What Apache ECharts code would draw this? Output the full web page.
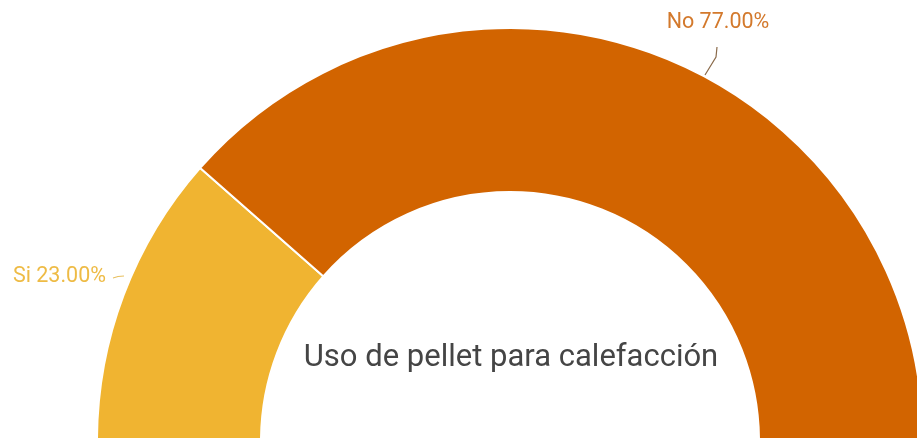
<!DOCTYPE html>
<html>
<head>
<meta charset="utf-8">
<script src="https://cdn.jsdelivr.net/npm/echarts@6/dist/echarts.min.js"></script>
<style>
  html, body { margin: 0; padding: 0; background: #ffffff; }
  #chart { width: 917px; height: 438px; }
</style>
</head>
<body>
<div id="chart"></div>
<script>
// Categories and shares for the half doughnut
const categories = ['Si', 'No'];
const values = [23, 77];
const sliceColors = ['#F0B431', '#D26400'];
const labelColors = ['#EEBB45', '#D3792C'];
const lineColors = ['#E8C060', '#8a6a4a'];
const chartTitle = 'Uso de pellet para calefacción';

const total = values.reduce((a, b) => a + b, 0);
const seriesData = categories.map((name, i) => ({
  name: name,
  value: values[i],
  itemStyle: { color: sliceColors[i] },
  label: { color: labelColors[i] },
  labelLine: { lineStyle: { color: lineColors[i] } }
}));

const chart = echarts.init(document.getElementById('chart'), null, { renderer: 'canvas' });

chart.setOption({
  backgroundColor: '#ffffff',
  animation: false,
  graphic: [{
    type: 'text',
    x: 511,
    y: 358,
    z: 100,
    style: {
      text: chartTitle,
      fontFamily: 'Roboto',
      fontSize: 31,
      fill: '#454545',
      align: 'center',
      verticalAlign: 'middle'
    }
  }],
  series: [{
    type: 'pie',
    center: [510, 441],
    radius: [249, 413],
    startAngle: 180,
    endAngle: 0,
    clockwise: true,
    avoidLabelOverlap: false,
    itemStyle: { borderColor: '#ffffff', borderWidth: 2 },
    label: {
      show: true,
      position: 'outside',
      overflow: 'none',
      fontFamily: 'Roboto',
      fontSize: 21.5,
      formatter: p => p.name + ' ' + (p.value / total * 100).toFixed(2) + '%'
    },
    labelLine: {
      show: true,
      length: 10,
      length2: 10,
      lineStyle: { width: 1.2 }
    },
    labelLayout: function (params) {
      if (params.dataIndex === 1) {
        return {
          x: 718, y: 23, align: 'center', verticalAlign: 'middle',
          labelLinePoints: [[705, 75], [716, 57], [717, 47]]
        };
      }
      return {
        x: 106, y: 277, align: 'right', verticalAlign: 'middle',
        labelLinePoints: [[124, 276], [118, 276.5], [113, 278]]
      };
    },
    data: seriesData
  }]
});
</script>
</body>
</html>
